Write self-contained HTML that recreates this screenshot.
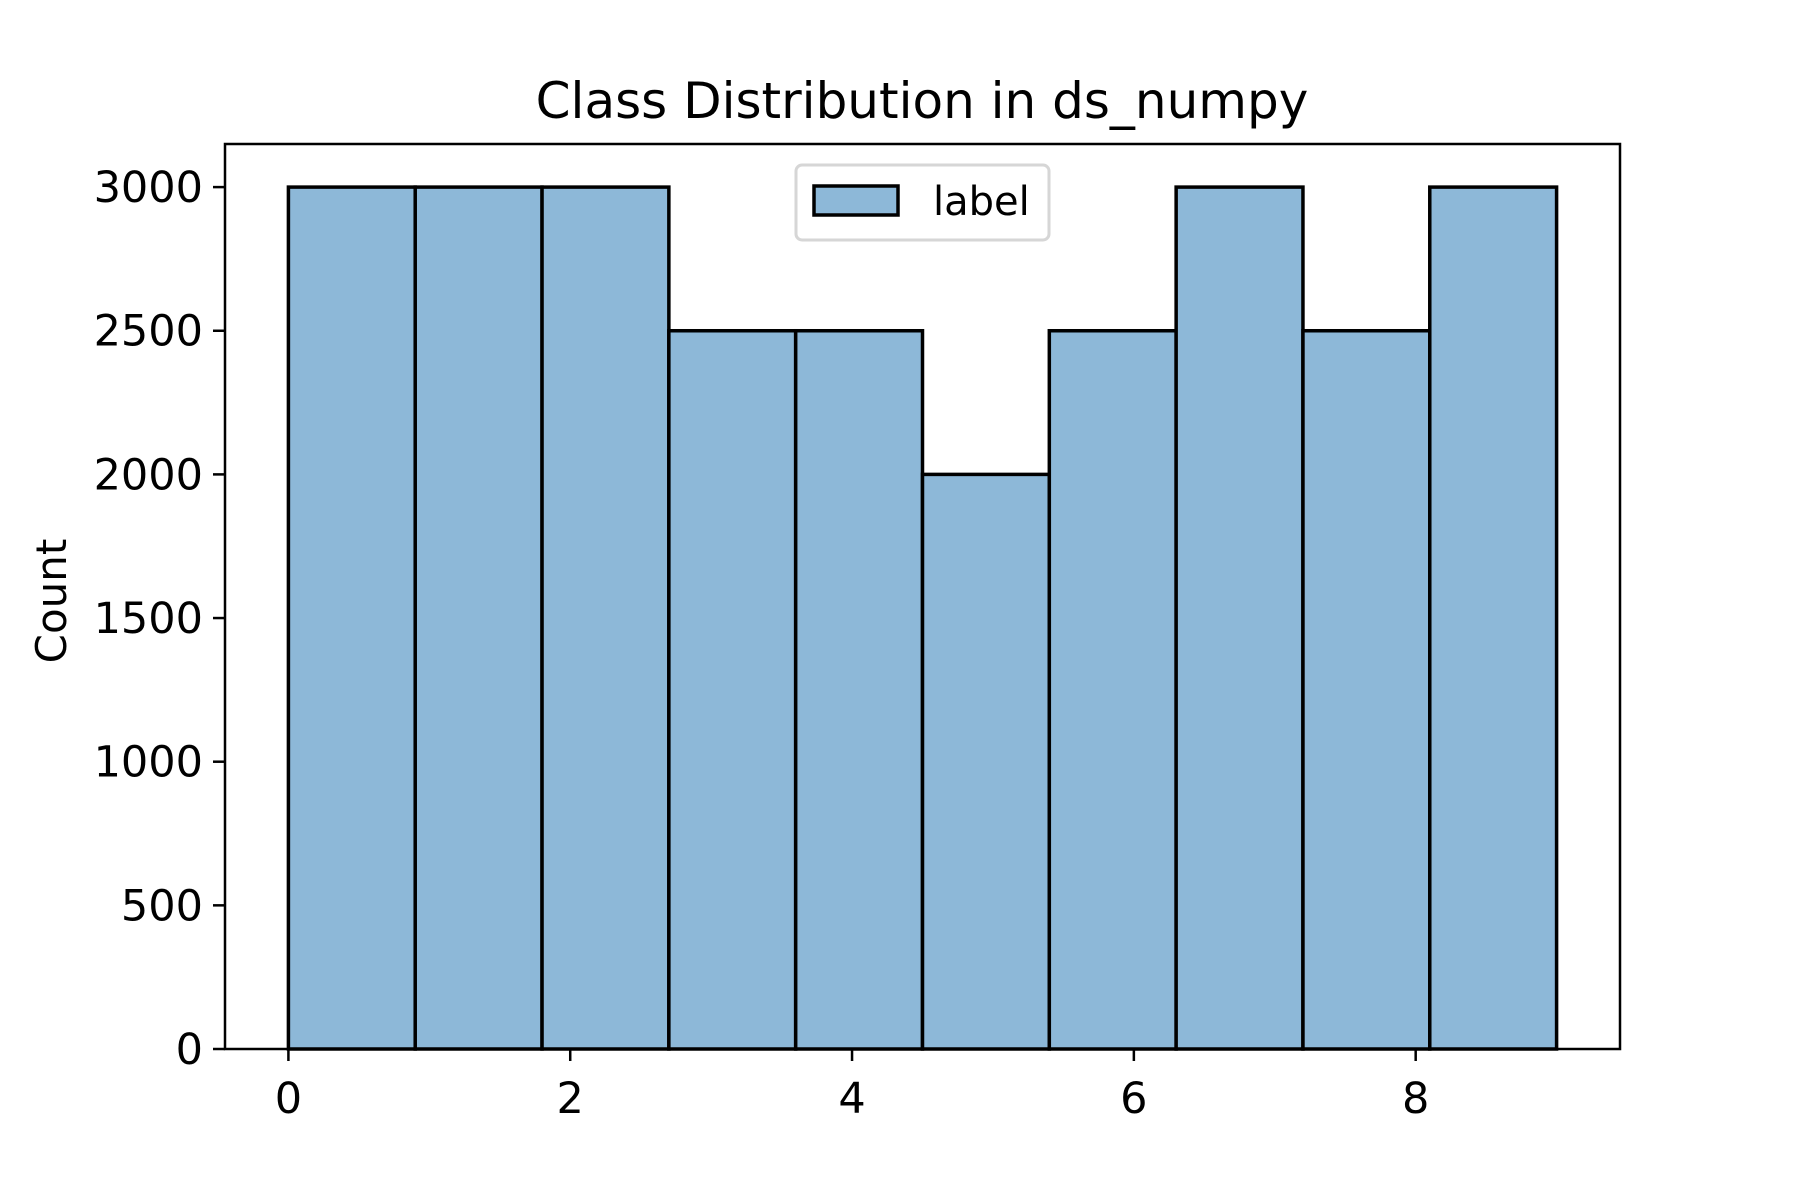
<!DOCTYPE html>
<html><head><meta charset="utf-8"><style>
html,body{margin:0;padding:0;background:#fff;}
svg{display:block;font-family:"DejaVu Sans","Liberation Sans",sans-serif;}
</style></head><body>
<svg id="chart" width="1800" height="1200" viewBox="0 0 1800 1200">
<rect width="1800" height="1200" fill="#fff"/>
<text x="922" y="118" font-size="50" text-anchor="middle">Class Distribution in ds_numpy</text>
<text transform="translate(66,601) rotate(-90)" font-size="42" text-anchor="middle">Count</text>
<g id="bars"></g>
<g id="ticks"></g>
<rect x="225" y="144" width="1395" height="905" fill="none" stroke="#000" stroke-width="2.5"/>
<g>
<rect x="796" y="165" width="253" height="75" rx="6" fill="#fff" fill-opacity="0.8" stroke="#d6d6d6" stroke-width="3"/>
<rect x="814" y="186" width="84" height="29" fill="#8db8d8" stroke="#000" stroke-width="3.5"/>
<text x="933" y="215" font-size="40">label</text>
</g>
</svg>
<script>
const binStarts = [0, 0.9, 1.8, 2.7, 3.6, 4.5, 5.4, 6.3, 7.2, 8.1];
const binWidth = 0.9;
const counts = [3000, 3000, 3000, 2500, 2500, 2000, 2500, 3000, 2500, 3000];
const xTicks = [0, 2, 4, 6, 8];
const yTicks = [0, 500, 1000, 1500, 2000, 2500, 3000];

const X0 = 225, X1 = 1620, Y0 = 1049, Y1 = 144;
const xMin = -0.45, xMax = 9.45, yMin = 0, yMax = 3150;
const sx = v => X0 + (v - xMin) / (xMax - xMin) * (X1 - X0);
const sy = v => Y0 - (v - yMin) / (yMax - yMin) * (Y0 - Y1);
const NS = "http://www.w3.org/2000/svg";
const bars = document.getElementById('bars');
binStarts.forEach((b, i) => {
  const r = document.createElementNS(NS, 'rect');
  const x = sx(b), w = sx(b + binWidth) - x, y = sy(counts[i]);
  r.setAttribute('x', x); r.setAttribute('y', y);
  r.setAttribute('width', w); r.setAttribute('height', sy(0) - y);
  r.setAttribute('fill', '#8db8d8'); r.setAttribute('stroke', '#000'); r.setAttribute('stroke-width', '3.5');
  
  
  bars.appendChild(r);
});
const ticks = document.getElementById('ticks');
xTicks.forEach(t => {
  const l = document.createElementNS(NS, 'line');
  l.setAttribute('x1', sx(t)); l.setAttribute('x2', sx(t));
  l.setAttribute('y1', Y0); l.setAttribute('y2', Y0 + 12);
  l.setAttribute('stroke', '#000'); l.setAttribute('stroke-width', '2.5');
  
  
  ticks.appendChild(l);
  const tx = document.createElementNS(NS, 'text');
  tx.setAttribute('x', sx(t)); tx.setAttribute('y', 1128 - 15);
  tx.setAttribute('font-size', '43'); tx.setAttribute('text-anchor', 'middle');
  tx.textContent = t;
  
  
  ticks.appendChild(tx);
});
yTicks.forEach(t => {
  const l = document.createElementNS(NS, 'line');
  l.setAttribute('x1', X0 - 12); l.setAttribute('x2', X0);
  l.setAttribute('y1', sy(t)); l.setAttribute('y2', sy(t));
  l.setAttribute('stroke', '#000'); l.setAttribute('stroke-width', '2.5');
  
  
  ticks.appendChild(l);
  const tx = document.createElementNS(NS, 'text');
  tx.setAttribute('x', X0 - 22); tx.setAttribute('y', sy(t) + 15);
  tx.setAttribute('font-size', '43'); tx.setAttribute('text-anchor', 'end');
  tx.textContent = t;
  
  
  ticks.appendChild(tx);
});
</script>
</body></html>
